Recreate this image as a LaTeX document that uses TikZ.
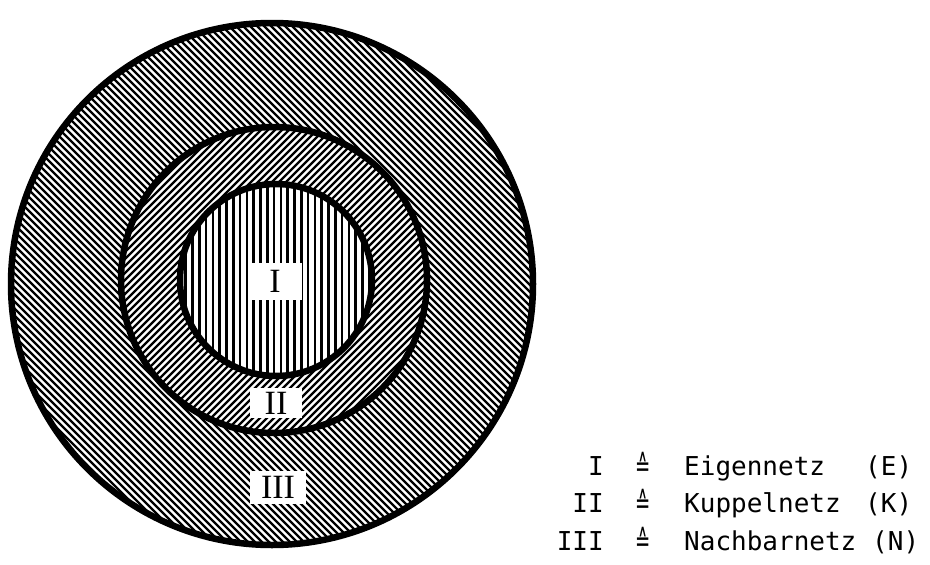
\documentclass[tikz,border=0pt]{standalone}
\usepackage{fontspec}
\setmainfont{Liberation Serif}
\setmonofont{DejaVu Sans Mono}
\newfontfamily\symfont{DejaVu Sans}
\newcommand{\corresp}{\raisebox{-1.5pt}{\scalebox{0.7}[1.15]{\symfont ≙}}}
\begin{document}
\begin{tikzpicture}[x=1pt,y=-1pt,
  ringline/.style={line width=6.5pt},
  hatchline/.style={line width=2.3pt},
  vhatchline/.style={line width=2.6pt},
  numlabel/.style={fill=white, inner sep=0pt, font=\fontsize{34}{34}\selectfont},
  legtext/.style={inner sep=0pt, font=\ttfamily\fontsize{26}{26}\selectfont},
  legsym/.style={inner sep=0pt, anchor=base, font=\fontsize{26}{26}\selectfont}]
\useasboundingbox (0,0) rectangle (930,565);
\coordinate (cO) at (272,284);
\coordinate (cM) at (274,280);
\coordinate (cI) at (276,280);
% outer ring hatching (\\\)
\begin{scope}
  \clip (cO) circle (261pt);
  \foreach \k in {-560,-553,...,560} \draw[hatchline] (\k,0) -- ++(600,600);
\end{scope}
% middle ring hatching (///)
\fill[white] (cM) circle (153pt);
\begin{scope}
  \clip (cM) circle (153pt);
  \foreach \k in {230,237,...,880} \draw[hatchline] (\k,0) -- ++(-600,600);
\end{scope}
% inner hatching (|||)
\fill[white] (cI) circle (96pt);
\begin{scope}
  \clip (cI) circle (96pt);
  \foreach \x in {172,178.8,...,382} \draw[vhatchline] (\x,170) -- (\x,390);
\end{scope}
% circle outlines
\draw[ringline] (cO) circle (261pt);
\draw[ringline] (cM) circle (153pt);
\draw[ringline] (cI) circle (96pt);
% labels in the circles
\node[numlabel, minimum width=54pt, minimum height=37pt] (lI) at (275,281) {I};
\node[numlabel, minimum width=52pt, minimum height=30pt] (lII) at (276,403) {II};
\node[numlabel, minimum width=56pt, minimum height=33pt] (lIII) at (278,487) {III};
% legend
\node[legtext, anchor=base east] (n1) at (604,475) {I};
\node[legsym] (s1) at (643,475) {\corresp};
\node[legtext, anchor=base west] (t1) at (684,475) {Eigennetz};
\node[legtext, anchor=base west] (a1) at (865,475) {(E)};
\node[legtext, anchor=base east] (n2) at (604,512) {II};
\node[legsym] (s2) at (643,512) {\corresp};
\node[legtext, anchor=base west] (t2) at (684,512) {Kuppelnetz};
\node[legtext, anchor=base west] (a2) at (865,512) {(K)};
\node[legtext, anchor=base east] (n3) at (604,550) {III};
\node[legsym] (s3) at (643,550) {\corresp};
\node[legtext, anchor=base west] (t3) at (684,550) {Nachbarnetz};
\node[legtext, anchor=base west] (a3) at (872,550) {(N)};
\end{tikzpicture}
\end{document}
